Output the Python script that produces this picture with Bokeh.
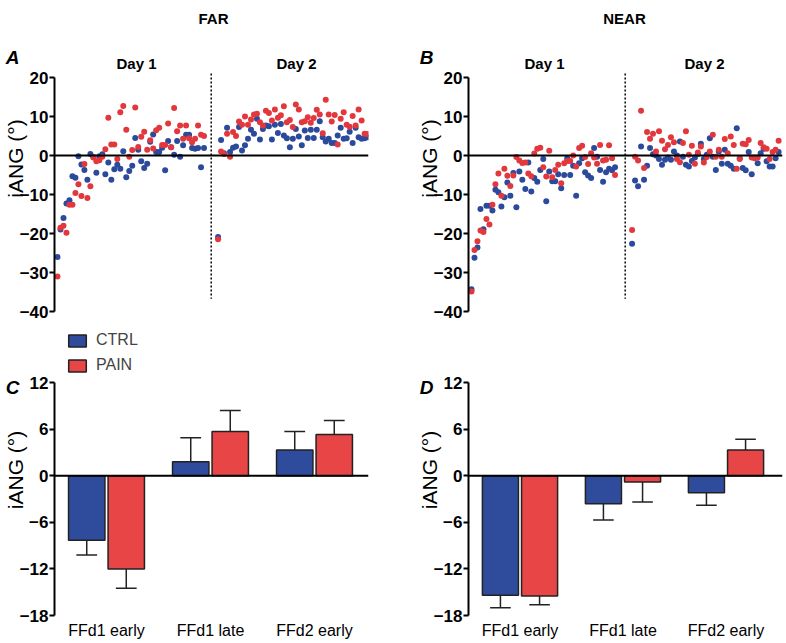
import numpy as np
from bokeh.plotting import figure
from bokeh.models import (Range1d, FixedTicker, Label, Span, Legend, LegendItem,
                          ColumnDataSource, LinearAxis)
from bokeh.layouts import gridplot
from bokeh.transform import dodge
from bokeh.embed import file_html
from bokeh.resources import INLINE

# ---------------------------------------------------------------- data
# FAR, trial-by-trial iANG (deg)
far_day1_ctrl = [-26, -19, -16, -12.3, -11.5, -5.3, -5.7, -0.2, -2.3, -3.7,
                 -6.2, 0.4, -0.4, -4.4, -0.2, 0.3, -4.8, -1.8, -6.2, -3.5,
                 -2.4, -3.4, 1.1, -5.6, -4.0, -2.6, 4.5, 1.5, -1.5, -3.2,
                 -2.1, 3.5, 5.4, 0.9, 0.9, 2.0, -3.8, 3.7, 2.1, 0.2,
                 3.7, -0.3, 2.6, 5.3, 5.3, 1.9, 1.7, 1.9, -3.0, 1.9]
far_day1_pain = [-31, -18.5, -18, -19.8, -12.6, -12.6, -9.6, -7.4, -10.4, -2.2,
                 -10.9, -7.9, -0.5, -1.5, -1.2, -0.3, 1.6, 9.7, 2.8, 2.8,
                 -0.9, 11.1, 12.7, 6.6, -0.3, 1.4, 12.3, 2.2, 4.8, 6.1,
                 1.5, 3.9, 1.8, 6.5, 7.1, 2.7, 2.7, 8.2, 2.1, 12.2,
                 6.2, 7.7, 4.3, 7.7, 4.4, 3.4, 4.3, 7.7, 5.3, 5.0]
far_day2_ctrl = [-20.9, 4.0, 0.6, 7.1, 0.9, 2.0, 2.3, 7.3, 1.3, 2.6,
                 4.3, 6.6, 5.6, 9.4, 4.1, 6.8, 7.7, 7.5, 4.1, 7.9,
                 5.8, 8.1, 5.1, 4.4, 2.1, 4.3, 6.8, 4.9, 2.6, 6.4,
                 4.5, 6.6, 4.5, 6.6, 8.8, 4.7, 3.6, 4.3, 3.2, 3.2,
                 5.1, 7.1, 4.3, 4.4, 6.1, 3.2, 7.1, 4.7, 4.3, 4.4, 4.7]
far_day2_pain = [-21.5, 1.0, 0.4, 5.6, -0.3, 6.0, 5.0, 8.7, 7.9, 10.0,
                 7.9, 9.2, 10.5, 10.7, 8.5, 7.7, 11.5, 10.9, 9.0, 11.8,
                 9.7, 10.3, 12.6, 8.5, 9.1, 7.3, 13.1, 11.8, 8.5, 8.8,
                 9.8, 8.4, 9.6, 11.7, 10.5, 5.7, 14.3, 10.5, 8.7, 10.4,
                 2.8, 9.4, 11.1, 7.9, 7.4, 10.1, 7.7, 11.8, 9.0, 5.6, 5.5]

# NEAR, trial-by-trial iANG (deg)
near_day1_ctrl = [-34.3, -26.2, -23.6, -13.7, -18.9, -12.9, -12.9, -14.1, -8.8, -9.4,
                  -13.1, -10.7, -6.9, -10.3, -4.5, -13.3, -4.1, -6.2, -8.6, -1.8,
                  -9.2, -5.8, -6.7, -3.7, -0.9, -11.7, -4.1, -6.6, -6.6, -4.8,
                  -8.4, -5.0, -0.8, -5.0, -2.6, -10.3, -2.0, -0.7, -4.3, -5.1,
                  -5.8, 1.9, -0.3, -3.7, -6.7, -4.3, -3.4, -3.8, -3.0]
near_day1_pain = [-34.9, -24.2, -22.0, -19.2, -19.6, -16.3, -17.7, -12.6, -7.4, -4.6,
                  -10.3, -3.4, -5.2, -7.8, -5.1, -0.4, -1.3, -1.9, -1.8, -4.6,
                  -5.3, 0.5, 1.7, 2.0, -3.0, -5.4, 1.2, -5.6, -3.7, -2.4,
                  -7.1, -2.0, -1.4, -1.4, 0.0, -2.8, 1.9, 2.5, -0.4, -2.2,
                  0.6, -0.5, -2.1, 2.7, -1.3, -1.1, 2.6, -0.7, -5.0]
near_day2_ctrl = [-22.6, -6.4, -7.9, 2.3, -6.2, -2.6, 1.9, 0.3, 0.0, -0.9,
                  -2.4, -1.1, -0.5, -1.1, 1.0, 0.0, 3.6, -0.3, -2.4, -2.8,
                  -1.4, -0.5, 0.4, 3.0, -0.9, 0.2, 4.4, -0.3, -3.7, 1.0,
                  -2.1, 1.5, -2.1, -2.6, -3.4, 7.0, -0.7, -3.2, -3.8, 0.9,
                  -4.8, -0.5, -2.0, 0.6, 1.7, -1.5, -2.8, -2.8, -0.7, 0.9]
near_day2_pain = [-19.1, -0.3, -1.3, 11.5, -3.2, 6.0, 4.3, 5.6, 1.0, 6.2,
                  3.8, 1.6, 2.7, 4.7, 3.4, -0.9, -1.7, 3.2, 6.2, 0.2,
                  2.5, -2.1, 0.8, 2.3, -1.8, -0.4, 1.0, 5.3, -0.3, 1.5,
                  -0.3, 4.2, 0.6, 4.9, 2.7, -3.4, -0.9, 3.0, 2.9, 4.0,
                  -0.5, -0.7, -0.5, 3.2, 2.1, 1.7, -0.9, 0.9, 1.5, 3.8]

day2_first_trial = 54.7     # trial-axis position of first day-2 trial
day_break = 52.4            # dotted separator between days
break_top, break_bottom = 21.0, -36.7

# Bar panels (mean, one-sided SEM)
bar_categories = ["FFd1 early", "FFd1 late", "FFd2 early"]
bar_positions = [1, 2, 3]
far_ctrl_mean = [-8.3, 1.8, 3.3]
far_ctrl_sem = [1.9, 3.1, 2.4]
far_pain_mean = [-12.0, 5.7, 5.3]
far_pain_sem = [2.5, 2.7, 1.8]
near_ctrl_mean = [-15.4, -3.6, -2.2]
near_ctrl_sem = [1.6, 2.1, 1.6]
near_pain_mean = [-15.5, -0.8, 3.3]
near_pain_sem = [1.1, 2.6, 1.4]

scatter_ticks = [-40, -30, -20, -10, 0, 10, 20]
bar_ticks = [-18, -12, -6, 0, 6, 12]

# ---------------------------------------------------------------- style
FONT = "Liberation Sans"
BLUE_DOT = "#2C4A9C"
RED_DOT = "#E2383D"
BLUE_BAR = "#2F4B9C"
RED_BAR = "#E84547"
EDGE = "#222222"
YLABEL = "iANG (°)"


class Geo:
    """maps page pixels to data coords of one figure"""
    def __init__(self, frame_left, frame_top, x0, ppux, ytop, ppuy):
        self.fl, self.ft, self.x0, self.ppux, self.ytop, self.ppuy = \
            frame_left, frame_top, x0, ppux, ytop, ppuy

    def xy(self, px, py):
        return (self.x0 + (px - self.fl) / self.ppux,
                self.ytop - (py - self.ft) / self.ppuy)


def add_text(p, geo, text, px, py, size, style="normal"):
    x, y = geo.xy(px, py)
    p.add_layout(Label(x=x, y=y, text=text, text_font=FONT,
                       text_font_size=size, text_font_style=style,
                       text_align="center", text_baseline="middle",
                       text_color="black"))


def style_yaxis(p, ticks):
    ax = p.yaxis[0]
    ax.ticker = FixedTicker(ticks=ticks)
    ax.bounds = (min(ticks), max(ticks))
    ax.axis_line_width = 2
    ax.axis_line_color = "black"
    ax.major_tick_line_width = 2
    ax.major_tick_line_color = "black"
    ax.major_tick_out = 5
    ax.major_tick_in = 0
    ax.minor_tick_line_color = None
    ax.major_label_text_font = FONT
    ax.major_label_text_font_style = "bold"
    ax.major_label_text_font_size = "17px"
    ax.major_label_text_color = "black"
    ax.major_label_standoff = 1


def letter_axis(p, geo, letter, letter_py, label_top_py, label_bottom_py):
    """outer left axis that carries the panel letter and the y label"""
    yval = round(geo.xy(0, letter_py)[1], 1)
    b_hi = geo.xy(0, label_top_py)[1]
    b_lo = geo.xy(0, label_bottom_py)[1]
    ax = LinearAxis(ticker=FixedTicker(ticks=[yval]),
                    major_label_overrides={yval: letter},
                    bounds=(b_lo, b_hi))
    ax.axis_line_color = None
    ax.major_tick_line_color = None
    ax.minor_tick_line_color = None
    ax.major_tick_out = 0
    ax.major_tick_in = 0
    ax.major_label_standoff = -3
    ax.major_label_text_font = FONT
    ax.major_label_text_font_style = "bold italic"
    ax.major_label_text_font_size = "19px"
    ax.major_label_text_color = "black"
    ax.axis_label = YLABEL
    ax.axis_label_text_font = FONT
    ax.axis_label_text_font_style = "normal"
    ax.axis_label_text_font_size = "21px"
    ax.axis_label_text_color = "black"
    ax.axis_label_standoff = -24
    p.add_layout(ax, "left")


def base_fig(width, height, xr, yr, bl, br, bt, bb):
    p = figure(width=width, height=height, x_range=xr, y_range=yr,
               min_border_left=bl, min_border_right=br,
               min_border_top=bt, min_border_bottom=bb,
               output_backend="svg", toolbar_location=None, title=None)
    p.grid.visible = False
    p.outline_line_color = None
    p.background_fill_color = "white"
    p.border_fill_color = "white"
    return p


# top row geometry (page px; page origin = figure origin)
TOP_H = 322
TOP_FRAME_TOP, TOP_FRAME_BOTTOM = 0, 316
PPU_Y_TOP = 3.9
Y_TOP_TOP = 20 + (77 - TOP_FRAME_TOP) / PPU_Y_TOP
Y_TOP_BOT = -40 - (TOP_FRAME_BOTTOM - 311) / PPU_Y_TOP
X_END_TOP = 105


def scatter_panel(width, bl, br, frame_left, d1c, d1p, d2c, d2p, letter):
    frame_w = width - bl - br
    p = base_fig(width, TOP_H, Range1d(0, X_END_TOP), Range1d(Y_TOP_BOT, Y_TOP_TOP),
                 bl, br, TOP_FRAME_TOP, TOP_H - TOP_FRAME_BOTTOM)
    p.xaxis.visible = False
    style_yaxis(p, scatter_ticks)
    p.add_layout(Span(location=0, dimension="width", line_color="black", line_width=2))
    p.segment(x0=[day_break], y0=[break_top], x1=[day_break], y1=[break_bottom],
              line_color="black", line_width=1.5, line_dash="2 2")
    for d1, d2, col in ((d1c, d2c, BLUE_DOT), (d1p, d2p, RED_DOT)):
        x1 = list(range(1, len(d1) + 1))
        x2 = [day2_first_trial + k for k in range(len(d2))]
        p.scatter(x1 + x2, list(d1) + list(d2), size=6, fill_color=col,
                  line_color=None)
    geo = Geo(frame_left, TOP_FRAME_TOP, 0, frame_w / X_END_TOP, Y_TOP_TOP, PPU_Y_TOP)
    letter_axis(p, geo, letter, 57, 55, 267)
    return p, geo


pA, gA = scatter_panel(400, 54, 32, 54, far_day1_ctrl, far_day1_pain,
                       far_day2_ctrl, far_day2_pain, "A")
pB, gB = scatter_panel(385, 68, 3, 468, near_day1_ctrl, near_day1_pain,
                       near_day2_ctrl, near_day2_pain, "B")

add_text(pA, gA, "FAR", 213, 18, "15px", "bold")
add_text(pA, gA, "Day 1", 136, 63, "15px", "bold")
add_text(pA, gA, "Day 2", 296, 63, "15px", "bold")

add_text(pB, gB, "NEAR", 624, 18, "15px", "bold")
add_text(pB, gB, "Day 1", 544, 63, "15px", "bold")
add_text(pB, gB, "Day 2", 704, 63, "15px", "bold")

# bottom row geometry (page px)
BOT_ORIGIN = TOP_H
BOT_H = 320
BOT_FRAME_TOP, BOT_FRAME_BOTTOM = 324, 615
PPU_Y_BOT = (BOT_FRAME_BOTTOM - 382) / 30.0
Y_BOT_TOP = 12 + (382 - BOT_FRAME_TOP) / PPU_Y_BOT
LEGEND_LEFT_OFFSET = 12
LEGEND_BOTTOM = 374


def bar_panel(width, bl, br, frame_left, ppux, cm, cs, pm, ps, letter, legend=False):
    frame_w = width - bl - br
    x0 = 0.5
    p = base_fig(width, BOT_H, Range1d(x0, x0 + frame_w / ppux), Range1d(-18, Y_BOT_TOP),
                 bl, br, BOT_FRAME_TOP - BOT_ORIGIN, BOT_ORIGIN + BOT_H - BOT_FRAME_BOTTOM)
    style_yaxis(p, bar_ticks)
    xa = p.xaxis[0]
    xa.ticker = FixedTicker(ticks=bar_positions)
    xa.major_label_overrides = {k: v for k, v in zip(bar_positions, bar_categories)}
    xa.axis_line_color = None
    xa.major_tick_line_color = None
    xa.minor_tick_line_color = None
    xa.major_tick_out = 0
    xa.major_tick_in = 0
    xa.major_label_text_font = FONT
    xa.major_label_text_font_size = "16px"
    xa.major_label_text_color = "black"
    xa.major_label_standoff = 6

    rends = []
    for mean, sem, off, col in ((cm, cs, -0.19, BLUE_BAR), (pm, ps, 0.19, RED_BAR)):
        mean = np.array(mean, dtype=float)
        sem = np.array(sem, dtype=float)
        end = mean + np.sign(mean) * sem
        src = ColumnDataSource(dict(x=bar_positions, top=mean, end=end))
        r = p.vbar(x=dodge("x", off, range=p.x_range), top="top", bottom=0, width=0.35,
                   source=src, fill_color=col, line_color=EDGE, line_width=1.5)
        rends.append(r)
        p.segment(x0=dodge("x", off, range=p.x_range), y0="top",
                  x1=dodge("x", off, range=p.x_range), y1="end",
                  source=src, line_color=EDGE, line_width=1.5)
        p.segment(x0=dodge("x", off - 0.1, range=p.x_range), y0="end",
                  x1=dodge("x", off + 0.1, range=p.x_range), y1="end",
                  source=src, line_color=EDGE, line_width=1.5)
    p.add_layout(Span(location=0, dimension="width", line_color="black", line_width=2))
    if legend:
        lg = Legend(items=[LegendItem(label="CTRL", renderers=[rends[0]]),
                           LegendItem(label="PAIN", renderers=[rends[1]])],
                    location=(LEGEND_LEFT_OFFSET, BOT_FRAME_BOTTOM - LEGEND_BOTTOM),
                    glyph_width=22, glyph_height=15, label_height=15, spacing=7,
                    padding=0, margin=0, border_line_color=None,
                    background_fill_alpha=0, label_text_font=FONT,
                    label_text_font_size="16px", label_standoff=8)
        p.add_layout(lg)
    geo = Geo(frame_left, BOT_FRAME_TOP, x0, ppux, Y_BOT_TOP, PPU_Y_BOT)
    letter_axis(p, geo, letter, 387, 385, 613)
    return p


pC = bar_panel(400, 54, 32, 54, 104, far_ctrl_mean, far_ctrl_sem,
               far_pain_mean, far_pain_sem, "C", legend=True)
pD = bar_panel(385, 68, 3, 468, 103, near_ctrl_mean, near_ctrl_sem,
               near_pain_mean, near_pain_sem, "D")

layout = gridplot([[pA, pB], [pC, pD]], toolbar_location=None)

open("out.html", "w").write(file_html(layout, INLINE))
